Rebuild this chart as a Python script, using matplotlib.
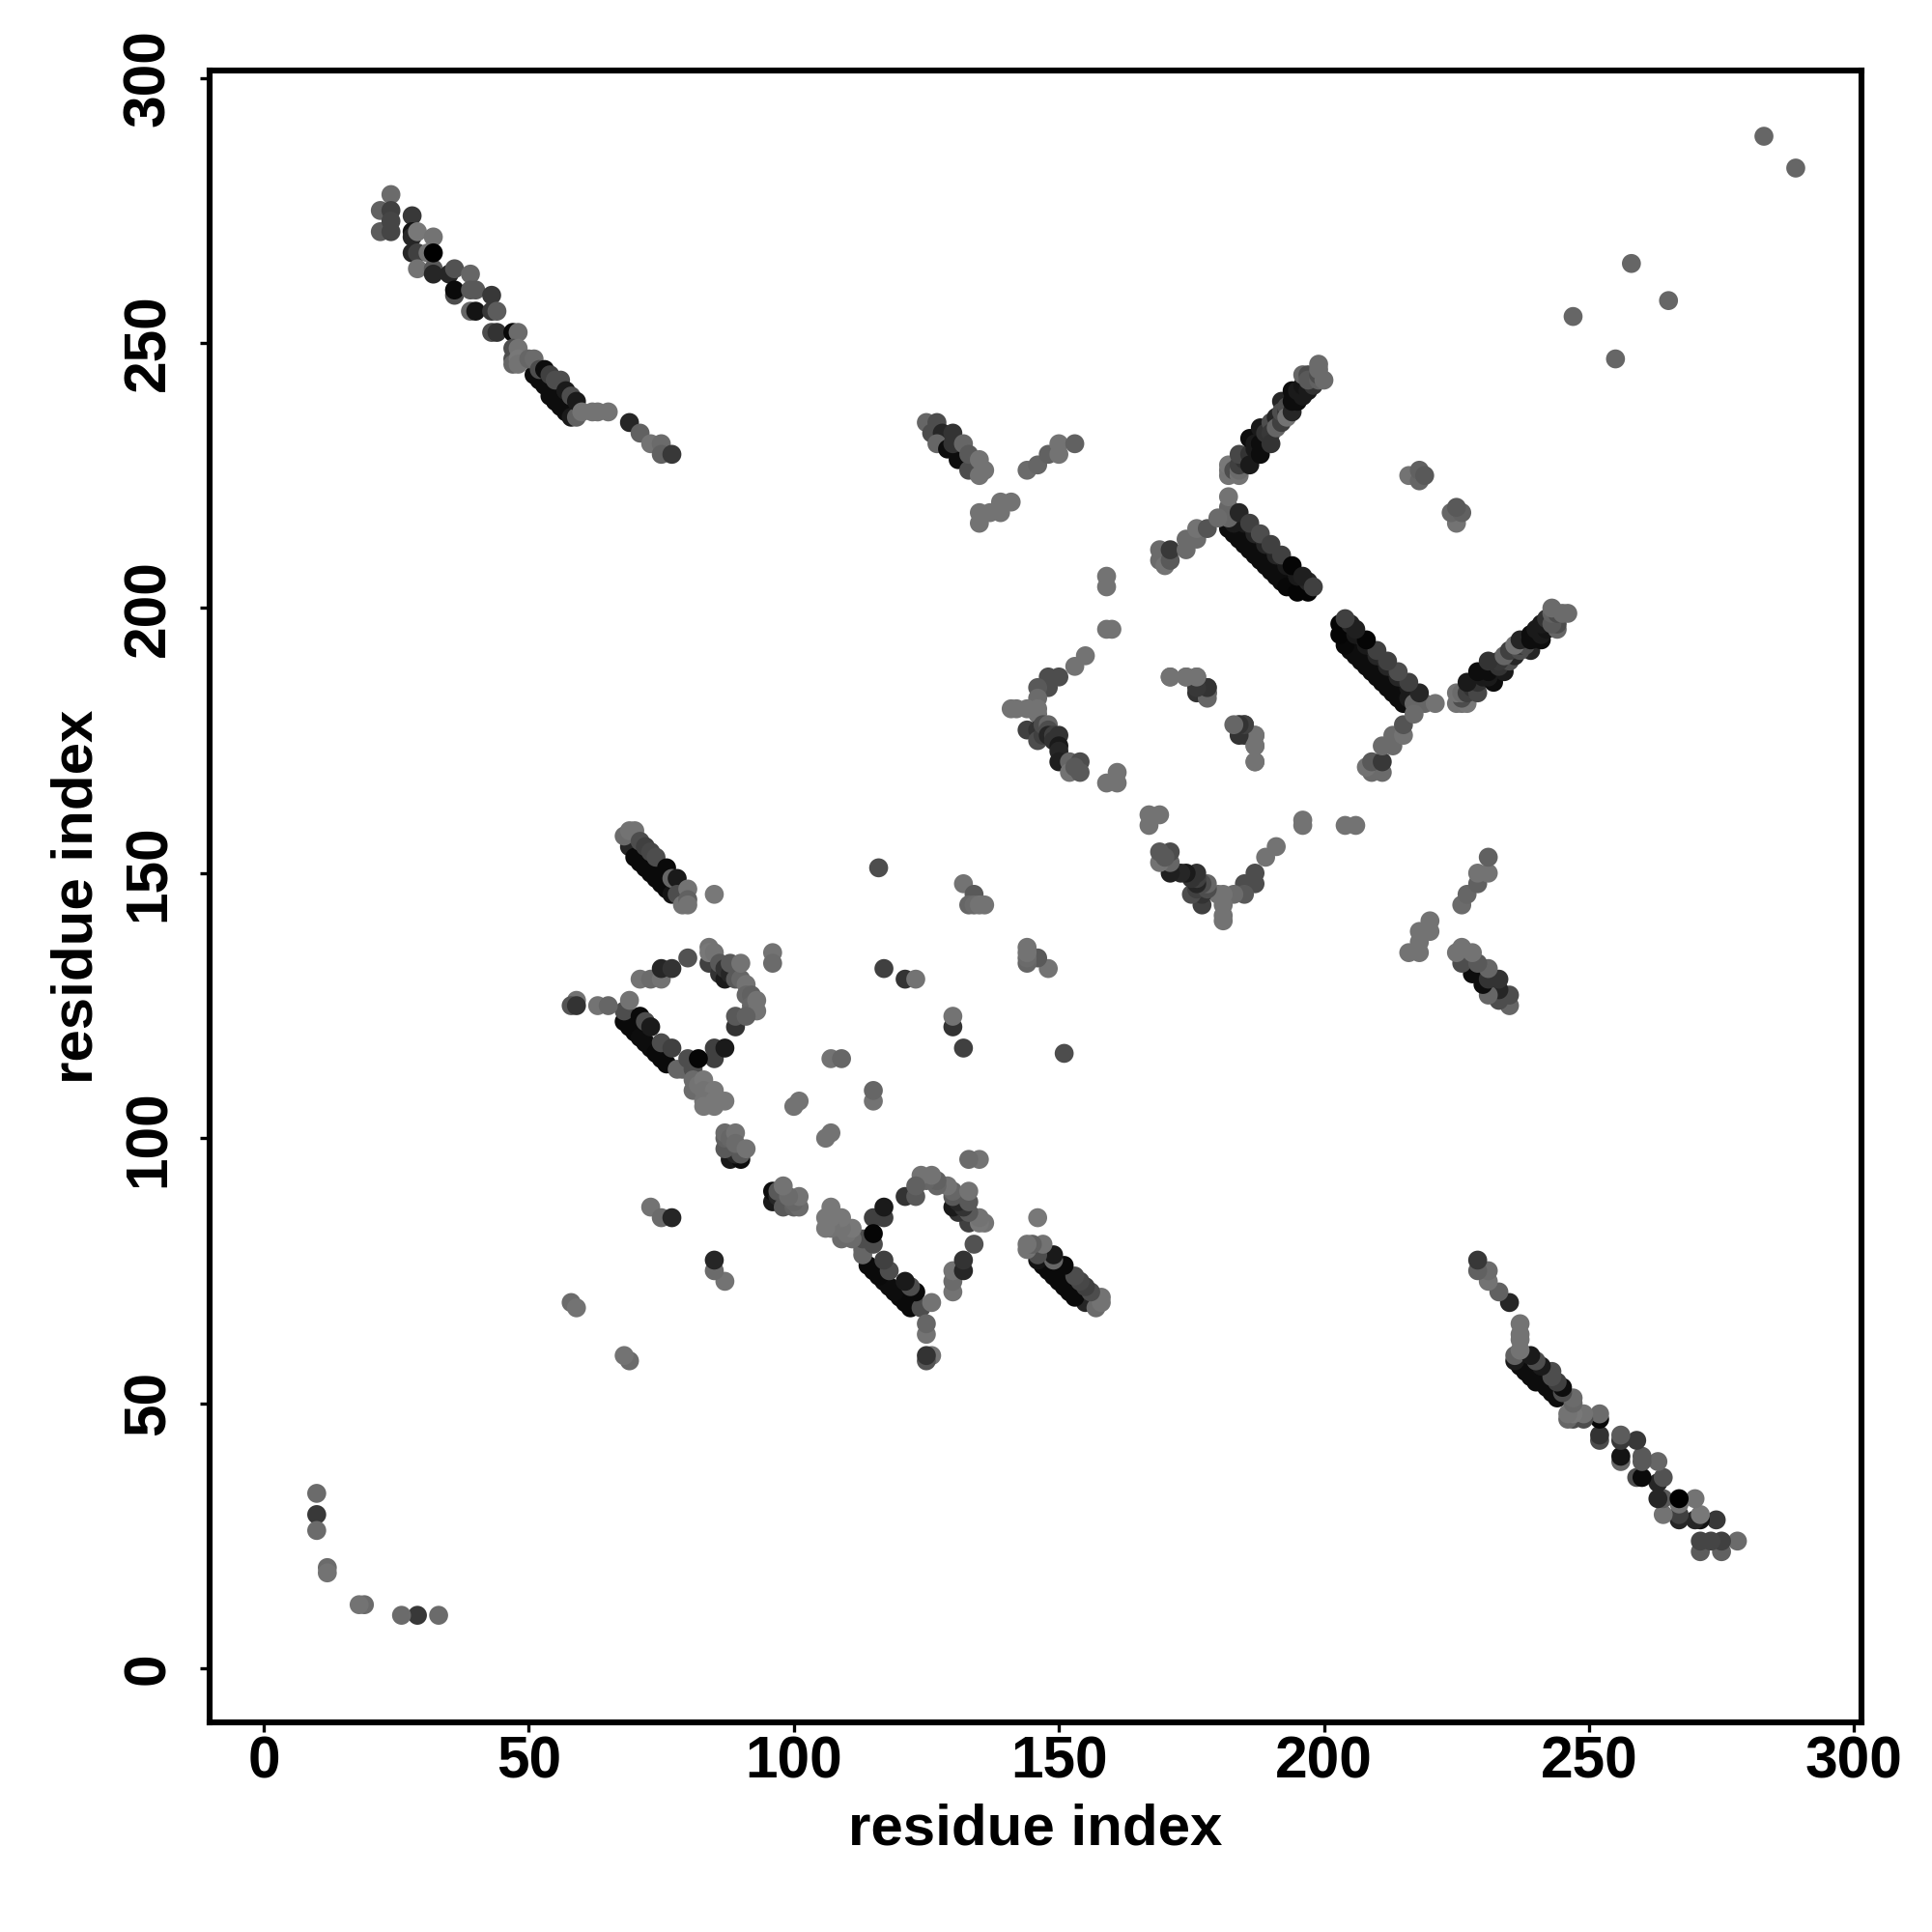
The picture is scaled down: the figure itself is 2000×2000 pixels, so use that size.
import numpy as np
import matplotlib
matplotlib.use('Agg')
import matplotlib.pyplot as plt

plt.rcParams['font.family'] = ['Liberation Sans', 'DejaVu Sans']

# contacts as (residue a, residue b, grey level), a < b, map is symmetric
nterm = [(10, 33, .42), (10, 29, .22), (10, 26, .42), (12, 19, .42), (12, 18, .45)]

far_pairs = [(283, 289, .4), (258, 265, .4), (247, 255, .4)]

strand_ends = [(22, 275, .38), (22, 271, .36), (24, 278, .42), (24, 275, .25), (24, 273, .27), (24, 271, .27),
               (28, 274, .22), (28, 271, .08), (28, 270, .15), (29, 271, .47), (28, 267, .15), (29, 267, .25),
               (31, 267, .45), (32, 270, .45), (29, 264, .45), (32, 264, .35), (32, 263, .15), (32, 267, .0),
               (35, 263, .15), (36, 264, .32), (39, 263, .4), (36, 259, .3), (36, 260, .04), (39, 260, .35),
               (40, 260, .35), (39, 256, .4), (40, 256, .08), (43, 259, .22), (43, 256, .22), (44, 256, .36),
               (43, 252, .3), (44, 252, .2), (47, 252, .03), (48, 252, .42), (47, 249, .3), (47, 247, .3),
               (47, 246, .4), (48, 249, .45), (48, 247, .47), (48, 246, .45)]

strand_main = [(51, 244, .05), (52, 243, .05), (53, 242, .05), (54, 241, .05), (54, 240, .05), (55, 239, .05),
               (56, 238, .05), (57, 237, .05), (58, 236, .1), (59, 236, .38), (50, 247, .4), (51, 247, .42),
               (52, 245, .3), (53, 245, .05), (54, 244, .25), (55, 243, .3), (56, 243, .3), (57, 241, .1),
               (58, 240, .3), (59, 239, .1), (60, 237, .45), (62, 237, .45), (63, 237, .45), (65, 237, .45),
               (69, 235, .15), (71, 233, .38), (73, 231, .45), (75, 231, .42), (75, 229, .38), (77, 229, .22)]

helix_v = [(125, 235, .4), (127, 235, .3), (126, 233, .3), (128, 233, .15), (130, 233, .2), (127, 231, .4),
           (129, 230, .05), (131, 228, .05), (133, 226, .3), (130, 231, .2), (132, 231, .4), (133, 229, .35),
           (135, 228, .45), (135, 225, .45), (136, 226, .45), (135, 218, .45), (135, 216, .45), (137, 218, .45),
           (139, 218, .45), (139, 220, .45), (141, 220, .45), (144, 226, .42), (146, 227, .4), (148, 229, .38),
           (150, 229, .45), (150, 231, .45), (153, 231, .38)]

strand_a = [(182, 225, .45), (182, 226, .45), (182, 227, .47), (183, 226, .3), (184, 225, .45), (184, 226, .42),
            (184, 227, .25), (185, 228, .2), (184, 229, .28), (186, 229, .2), (186, 227, .1), (186, 232, .05),
            (187, 230, .1), (187, 231, .1), (188, 231, .05), (188, 229, .05), (188, 234, .1), (189, 231, .05),
            (189, 233, .2), (190, 235, .3), (190, 233, .22), (190, 231, .2), (191, 236, .15), (191, 234, .4),
            (192, 239, .15), (192, 235, .25), (192, 237, .3), (193, 237, .2), (193, 238, .3), (193, 236, .45),
            (194, 241, .05), (194, 237, .15), (194, 239, .05), (195, 239, .05), (195, 241, .1), (196, 240, .1),
            (196, 242, .08), (197, 241, .1), (198, 242, .2), (196, 244, .4), (197, 244, .3), (197, 243, .35),
            (199, 243, .38), (199, 244, .3), (200, 243, .42), (199, 245, .42), (199, 246, .42)]

strand_b = [(182, 215, .05), (183, 214, .05), (184, 213, .05), (185, 212, .05), (186, 211, .05), (187, 210, .05),
            (188, 209, .05), (189, 208, .05), (190, 207, .05), (191, 206, .05), (192, 205, .05), (193, 204, .03),
            (195, 203, .02), (197, 203, .02), (183, 216, .1), (185, 216, .1), (187, 214, .15), (189, 212, .15),
            (191, 210, .15), (193, 208, .1), (195, 206, .1), (197, 205, .15), (182, 217, .4), (182, 219, .4),
            (182, 221, .45), (184, 218, .15), (186, 216, .25), (188, 214, .3), (190, 212, .25), (192, 210, .25),
            (194, 208, .02), (196, 206, .12), (198, 204, .25)]

ring_top = [(169, 211, .42), (169, 209, .42), (170, 208, .45), (171, 209, .35), (171, 211, .22), (174, 213, .42),
            (174, 211, .42), (176, 213, .42), (176, 215, .45), (178, 215, .33), (180, 217, .42)]

ring_left = [(159, 206, .45), (159, 204, .45), (159, 196, .45), (160, 196, .45), (155, 191, .45), (153, 189, .45),
             (150, 187, .3), (148, 187, .3), (148, 185, .3), (146, 185, .35), (146, 183, .42), (141, 181, .45),
             (142, 181, .45), (144, 181, .45), (146, 181, .45), (146, 180, .45), (144, 177, .25), (146, 177, .2),
             (146, 175, .3), (147, 176, .25), (147, 178, .3), (148, 178, .4), (148, 177, .3), (148, 176, .15),
             (149, 176, .25), (149, 175, .2), (150, 176, .2), (150, 174, .1), (150, 173, .15), (150, 171, .12),
             (152, 171, .4), (152, 169, .45), (154, 171, .3), (154, 169, .35), (153, 170, .35), (159, 167, .45),
             (161, 167, .45), (161, 169, .45)]

ring_inner = [(171, 187, .45), (174, 187, .45), (176, 187, .45), (176, 184, .2), (178, 185, .25), (178, 184, .2),
              (178, 183, .4), (184, 178, .4), (185, 178, .2), (185, 176, .22), (187, 176, .45), (187, 174, .45),
              (187, 171, .45)]

side_pairs = [(216, 225, .45), (218, 224, .4), (218, 226, .38), (219, 225, .35)]

strand_c = [(69, 155, .15), (70, 153, .04), (71, 152, .04), (72, 151, .04), (73, 150, .04), (74, 149, .04),
            (75, 148, .04), (76, 147, .04), (77, 146, .08), (68, 157, .42), (69, 158, .45), (70, 158, .45),
            (71, 156, .3), (72, 155, .25), (73, 154, .28), (74, 153, .3), (76, 151, .04), (77, 149, .4),
            (78, 149, .1), (78, 146, .3), (79, 144, .45), (80, 147, .45), (80, 145, .38), (80, 144, .45),
            (85, 146, .47)]

strand_d = [(68, 122, .04), (69, 121, .04), (70, 120, .04), (71, 119, .05), (72, 118, .05), (73, 117, .05),
            (74, 116, .04), (75, 115, .04), (76, 114, .04), (68, 124, .3), (69, 126, .45), (71, 123, .04),
            (72, 122, .3), (73, 121, .1), (75, 118, .3), (77, 117, .25), (78, 113, .4), (79, 113, .4),
            (59, 126, .45), (58, 125, .33), (59, 125, .2), (63, 125, .45), (65, 125, .4)]

loop_d = [(71, 130, .45), (73, 130, .42), (75, 130, .45), (75, 132, .15), (77, 132, .2), (80, 134, .32),
          (84, 133, .25), (84, 136, .45), (84, 135, .47), (85, 135, .45), (86, 131, .2), (86, 133, .35),
          (87, 130, .1), (87, 132, .2), (88, 131, .15), (88, 133, .35), (89, 130, .35), (90, 130, .4),
          (90, 133, .45), (91, 129, .45), (91, 127, .4), (92, 127, .38), (92, 125, .4), (93, 126, .45),
          (93, 124, .45), (89, 121, .2), (89, 123, .35), (91, 123, .38), (96, 135, .45), (96, 133, .42)]

loop_bottom = [(80, 115, .3), (81, 113, .3), (85, 115, .25), (85, 117, .25), (87, 117, .1), (82, 115, .02),
               (81, 111, .42), (81, 109, .42), (82, 110, .45), (83, 111, .47), (83, 109, .45), (84, 108, .45),
               (85, 109, .47), (83, 107, .45), (83, 106, .47), (85, 106, .47), (85, 107, .47), (87, 107, .47)]

helix_gap = [(88, 96, .1), (90, 96, .05), (89, 97, .15), (90, 97, .35), (87, 98, .35), (87, 100, .38),
             (87, 101, .42), (88, 100, .4), (89, 101, .45), (89, 99, .42), (91, 98, .45)]

scattered = [(100, 106, .45), (101, 107, .45), (107, 115, .45), (109, 115, .4),
             (116, 151, .3), (117, 132, .25), (121, 130, .2), (123, 130, .45),
             (132, 148, .45), (134, 146, .35), (133, 144, .4), (134, 144, .42), (136, 144, .45),
             (135, 144, .45), (58, 69, .42), (59, 68, .45), (73, 87, .45), (75, 85, .42), (77, 85, .15)]

contacts = (nterm + far_pairs + strand_ends + strand_main + helix_v + strand_a + strand_b + ring_top + ring_left
            + ring_inner + side_pairs + strand_c + strand_d + loop_d + loop_bottom + helix_gap + scattered)
c = np.array(contacts)
res_a = np.concatenate([c[:, 0], c[:, 1]])
res_b = np.concatenate([c[:, 1], c[:, 0]])
grey = np.concatenate([c[:, 2], c[:, 2]])

tick_vals = [0, 50, 100, 150, 200, 250, 300]

fig = plt.figure(figsize=(10, 10), dpi=200)
ax = fig.add_axes([0.1085, 0.1085, 0.8550, 0.8550])
ax.scatter(res_a, res_b, s=50, c=[str(g) for g in grey], linewidths=0, clip_on=False, zorder=3)
ax.set_xlim(-10.2, 301.4)
ax.set_ylim(-10.2, 301.4)
ax.set_xticks(tick_vals)
ax.set_yticks(tick_vals)
ax.tick_params(axis='both', length=3.5, width=1.2, labelsize=21.8)
ax.tick_params(axis='x', pad=1.5)
ax.tick_params(axis='y', pad=8.6)
for lab in ax.get_xticklabels():
    lab.set_fontweight('bold')
for lab in ax.get_yticklabels():
    lab.set_fontweight('bold')
    lab.set_rotation(90)
    lab.set_va('center')
for s in ax.spines.values():
    s.set_linewidth(2.2)
ax.set_xlabel('residue index', fontsize=21.6, fontweight='bold', labelpad=4.6)
ax.set_ylabel('residue index', fontsize=21.6, fontweight='bold', labelpad=6.7)
plt.savefig('out.png', dpi=200)
